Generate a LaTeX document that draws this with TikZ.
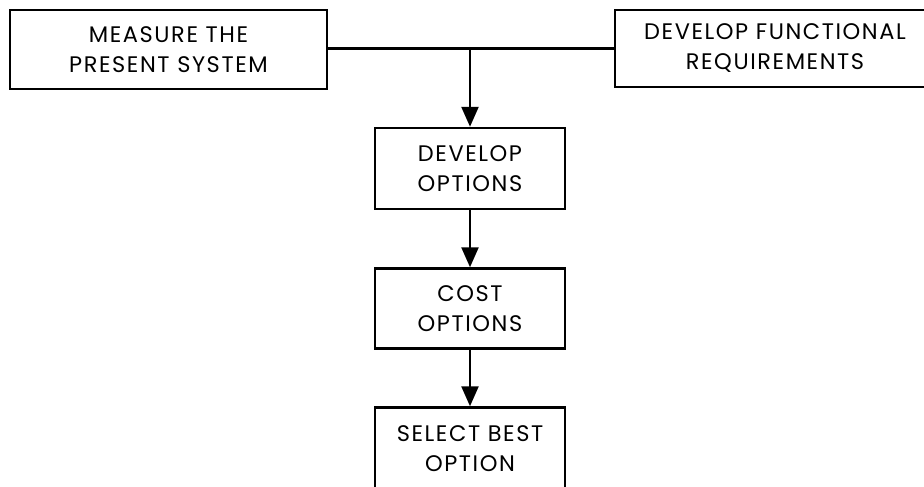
\documentclass[tikz,border=0pt]{standalone}
\usepackage{fontspec}
\setmainfont{Poppins}[LetterSpace=7]
\usetikzlibrary{arrows.meta,calc,positioning}
\tikzset{%
	block/.style    = {draw, rectangle, line width=2.5pt, align=center, inner sep=0pt, font=\fontsize{22.5}{30}\selectfont},
	waypoint/.style = {coordinate},
	arrow/.style    = {line width=2.5pt, -{Triangle[length=20pt,width=17pt]}},
}
\begin{document}
\begin{tikzpicture}[x=1pt, y=-1pt, node distance = 140pt]
	\useasboundingbox (0,0) rectangle (924,487);
	\node[block, minimum width=317pt, minimum height=79pt] (meas) at (168.5,49.5) {MEASURE THE\\PRESENT SYSTEM};
	\node[block, minimum width=320pt, minimum height=77pt] (func) at (775,48.5) {DEVELOP FUNCTIONAL\\REQUIREMENTS};
	\node[block, minimum width=190pt, minimum height=81pt] (opts) at (470,168.5) {DEVELOP\\OPTIONS};
	\node[block, minimum width=190pt, minimum height=80pt, below of=opts] (cost) {COST\\OPTIONS};
	\node[block, minimum width=190pt, minimum height=82pt, below of=cost] (best) {SELECT BEST\\OPTION};
	\coordinate (j) at (opts.north |- func.west);
	\draw[line width=2.5pt] (meas.east |- j) -- (func.west |- j);
	\draw[arrow] (j) -- (opts);
	\draw[arrow] (opts) -- (cost);
	\draw[arrow] (cost) -- (best);
\end{tikzpicture}
\end{document}
